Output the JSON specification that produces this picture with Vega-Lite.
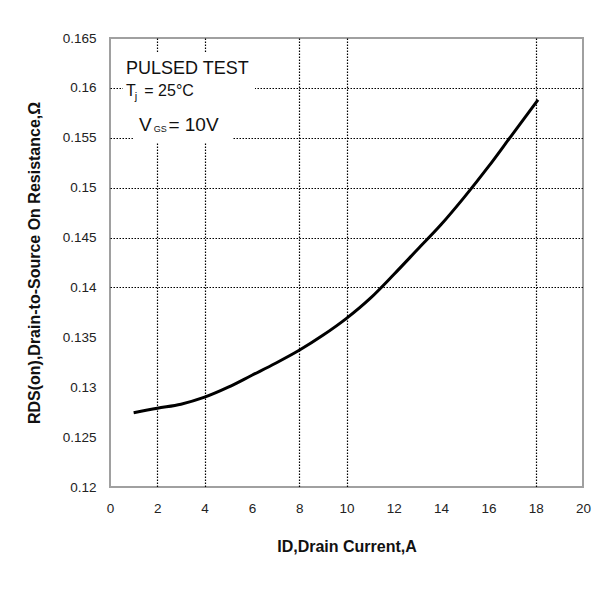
{
  "$schema": "https://vega.github.io/schema/vega-lite/v6.json",
  "autosize": "none",
  "padding": {"left": 110, "top": 38, "right": 12, "bottom": 102},
  "width": 473,
  "height": 449,
  "background": "white",
  "config": {
    "font": "Liberation Sans",
    "view": {"stroke": "#a0a0a0", "strokeWidth": 2},
    "axis": {
      "domain": false,
      "ticks": false,
      "tickSize": 0,
      "labelFont": "Liberation Sans",
      "labelFontSize": 13.5,
      "labelColor": "#222",
      "titleFont": "Liberation Sans",
      "titleFontSize": 16,
      "titleFontWeight": "bold",
      "titleColor": "#111",
      "gridColor": "#000",
      "gridDash": [1.5, 1.5],
      "gridWidth": 1.2
    }
  },
  "encoding": {
    "x": {
      "field": "x",
      "type": "quantitative",
      "scale": {"domain": [0, 20], "nice": false, "zero": false},
      "axis": {
        "title": "ID,Drain Current,A",
        "values": [0, 2, 4, 6, 8, 10, 12, 14, 16, 18, 20],
        "labelPadding": 14,
        "titlePadding": 24,
        "labelFlush": false,
        "gridOpacity": {"condition": {"test": "indexof([2,4,8,10,18], datum.value) >= 0", "value": 1}, "value": 0}
      }
    },
    "y": {
      "field": "y",
      "type": "quantitative",
      "scale": {"domain": [0.12, 0.165], "nice": false, "zero": false},
      "axis": {
        "title": "RDS(on),Drain-to-Source On Resistance,Ω",
        "values": [0.12, 0.125, 0.13, 0.135, 0.14, 0.145, 0.15, 0.155, 0.16, 0.165],
        "format": ".3~f",
        "labelPadding": 14,
        "titlePadding": 20,
        "labelFlush": false,
        "gridOpacity": {"condition": {"test": "datum.value > 0.1375 && datum.value < 0.1625", "value": 1}, "value": 0}
      }
    }
  },
  "layer": [
    {
      "data": {"values": [
        {"x": 0.55, "x2": 6.13, "y": 0.1595, "y2": 0.1635},
        {"x": 0.97, "x2": 5.16, "y": 0.15458, "y2": 0.16}
      ]},
      "mark": {"type": "rect", "fill": "white", "stroke": null},
      "encoding": {"x2": {"field": "x2"}, "y2": {"field": "y2"}}
    },
    {
      "data": {"values": [
        {"x": 1, "y": 0.12745},
        {"x": 2, "y": 0.1279},
        {"x": 3, "y": 0.1283},
        {"x": 4, "y": 0.129},
        {"x": 5, "y": 0.13},
        {"x": 6, "y": 0.1312},
        {"x": 7, "y": 0.1324},
        {"x": 8, "y": 0.1337},
        {"x": 9, "y": 0.1352},
        {"x": 10, "y": 0.1369},
        {"x": 11, "y": 0.1389},
        {"x": 12, "y": 0.1413},
        {"x": 13, "y": 0.1438},
        {"x": 14, "y": 0.1463},
        {"x": 15, "y": 0.1491},
        {"x": 16, "y": 0.1521},
        {"x": 17, "y": 0.1553},
        {"x": 18.1, "y": 0.1588}
      ]},
      "mark": {"type": "line", "color": "#000", "strokeWidth": 3, "interpolate": "monotone"}
    },
    {
      "data": {"values": [{"x": 0.68, "y": 0.16189, "label": "PULSED TEST"}]},
      "mark": {"type": "text", "align": "left", "baseline": "middle", "fontSize": 18, "color": "#111"},
      "encoding": {"text": {"field": "label"}}
    },
    {
      "data": {"values": [
        {"x": 0.68, "y": 0.15969, "label": "T"},
        {"x": 1.45, "y": 0.15969, "label": "= 25°C"}
      ]},
      "mark": {"type": "text", "align": "left", "baseline": "middle", "fontSize": 16, "color": "#111"},
      "encoding": {"text": {"field": "label"}}
    },
    {
      "data": {"values": [{"x": 1.05, "y": 0.15909, "label": "j"}]},
      "mark": {"type": "text", "align": "left", "baseline": "middle", "fontSize": 11, "color": "#111"},
      "encoding": {"text": {"field": "label"}}
    },
    {
      "data": {"values": [
        {"x": 1.23, "y": 0.15628, "label": "V"},
        {"x": 2.47, "y": 0.15628, "label": "= 10V"}
      ]},
      "mark": {"type": "text", "align": "left", "baseline": "middle", "fontSize": 19, "color": "#111"},
      "encoding": {"text": {"field": "label"}}
    },
    {
      "data": {"values": [{"x": 1.85, "y": 0.15588, "label": "GS"}]},
      "mark": {"type": "text", "align": "left", "baseline": "middle", "fontSize": 9, "color": "#111"},
      "encoding": {"text": {"field": "label"}}
    }
  ]
}
